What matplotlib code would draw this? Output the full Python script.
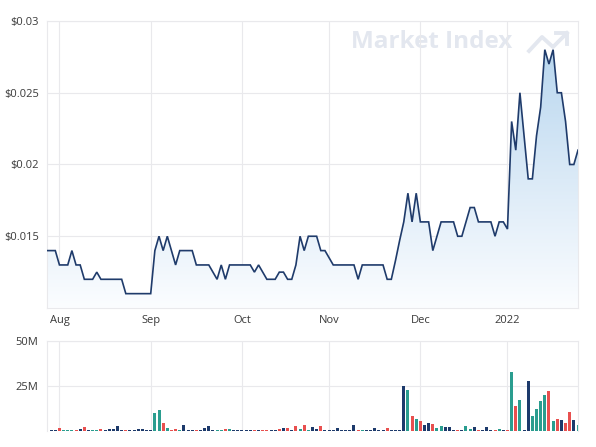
import numpy as np
import pandas as pd
import matplotlib
matplotlib.use("Agg")
import matplotlib.pyplot as plt
from matplotlib.colors import LinearSegmentedColormap
from matplotlib.lines import Line2D

plt.rcParams['font.family'] = ['Open Sans', 'DejaVu Sans']

# ---------------- data ----------------
holidays = ['2021-12-27', '2021-12-28', '2022-01-03', '2022-01-26']
dates = pd.bdate_range('2021-07-28', '2022-01-28', freq='C', holidays=holidays)

price = [
    0.014, 0.014, 0.014, 0.013, 0.013, 0.013, 0.014, 0.013, 0.013, 0.012,
    0.012, 0.012, 0.0125, 0.012, 0.012, 0.012, 0.012, 0.012, 0.012, 0.011,
    0.011, 0.011, 0.011, 0.011, 0.011, 0.011, 0.014, 0.015, 0.014, 0.015,
    0.014, 0.013, 0.014, 0.014, 0.014, 0.014, 0.013, 0.013, 0.013, 0.013,
    0.0125, 0.012, 0.013, 0.012, 0.013, 0.013, 0.013, 0.013, 0.013, 0.013,
    0.0125, 0.013, 0.0125, 0.012, 0.012, 0.012, 0.0125, 0.0125, 0.012, 0.012,
    0.013, 0.015, 0.014, 0.015, 0.015, 0.015, 0.014, 0.014, 0.0135, 0.013,
    0.013, 0.013, 0.013, 0.013, 0.013, 0.012, 0.013, 0.013, 0.013, 0.013,
    0.013, 0.013, 0.012, 0.012, 0.0133, 0.0147, 0.016, 0.018, 0.016, 0.018,
    0.016, 0.016, 0.016, 0.014, 0.015, 0.016, 0.016, 0.016, 0.016, 0.015,
    0.015, 0.016, 0.017, 0.017, 0.016, 0.016, 0.016, 0.016, 0.015, 0.016,
    0.016, 0.0155, 0.023, 0.021, 0.025, 0.022, 0.019, 0.019, 0.022, 0.024,
    0.028, 0.027, 0.028, 0.025, 0.025, 0.023, 0.020, 0.020, 0.021,
]

volume_m = [
    0.3, 0.3, 0.3, 1.8, 0.4, 0.4, 0.7, 0.4, 1.3, 2.2,
    0.3, 0.4, 0.6, 1.3, 0.4, 1.3, 1.3, 2.8, 0.3, 0.3,
    0.3, 0.6, 1.3, 1.3, 0.3, 0.3, 10.2, 11.7, 4.3, 1.7,
    0.6, 1.3, 0.4, 3.1, 0.6, 0.3, 0.6, 0.3, 1.7, 2.8,
    0.3, 0.4, 0.6, 1.1, 1.1, 0.3, 0.3, 0.3, 0.3, 0.3,
    0.3, 0.3, 0.6, 0.6, 0.3, 0.3, 1.0, 1.9, 1.7, 0.4,
    2.8, 1.1, 3.1, 0.6, 2.0, 1.1, 2.6, 0.6, 0.3, 0.4,
    1.7, 0.6, 0.6, 0.6, 3.1, 0.3, 0.3, 0.6, 0.6, 1.7,
    0.6, 0.3, 1.7, 0.3, 0.3, 0.3, 24.8, 22.6, 8.1, 6.9,
    5.6, 3.1, 4.6, 3.7, 1.7, 2.6, 2.0, 2.0, 0.3, 0.5,
    0.3, 2.6, 1.1, 2.0, 0.5, 0.3, 2.0, 0.6, 0.3, 1.1,
    0.6, 0.6, 32.6, 13.7, 17.0, 0.3, 27.6, 8.1, 12.4, 16.7,
    20.2, 22.0, 5.4, 6.9, 6.3, 4.4, 10.6, 6.3, 3.1,
]

# n = navy, t = teal, r = red
volume_kind = (
    "nnnrtttrnr" "nttrnnnnnr" "nnnnnnttrt" "rrtnnnrnnn"
    "nttrtnnnnn" "rnrrnnrnrn" "rtrtnnrnnn" "nnnnnrtnnn"
    "nnrnnnntrt" "rnnrttnnnr" "nttnrnnnrt" "nrtrtnnttt"
    "trtrnrrnt"
)

month_labels = ["Aug", "Sep", "Oct", "Nov", "Dec", "2022"]

# ---------------- styling ----------------
W, H = 596, 447
fig = plt.figure(figsize=(W / 100, H / 100), dpi=100)
fig.patch.set_facecolor('white')

L, R = 47, 578
ax = fig.add_axes([L / W, 1 - 308 / H, (R - L) / W, (308 - 21) / H])
axv = fig.add_axes([L / W, 1 - 431 / H, (R - L) / W, (431 - 341) / H])

x = np.arange(len(price))
n = len(price)
line_color = '#1f3b6b'
grid_color = '#e9e9ec'
text_color = '#3a3a3a'
kind_colors = {'n': '#1d3a6b', 't': '#2a9d8f', 'r': '#e8504f'}

# month tick positions (first trading day of each month)
d = pd.Series(dates[:n])
first_idx = [int(i) for i in d.groupby([d.dt.year, d.dt.month]).head(1).index if i > 0]

# price chart
ymin, ymax = 0.01, 0.03
poly = ax.fill_between(x, price, ymin, color='none', lw=0)
cmap = LinearSegmentedColormap.from_list('g', ['#fbfdff', '#dbeaf7', '#b9d7ef'])
grad = np.linspace(0, 1, 256).reshape(-1, 1)
im = ax.imshow(grad, extent=[0, n - 1, ymin, max(price)], origin='lower',
               aspect='auto', cmap=cmap, zorder=1, interpolation='bilinear')
im.set_clip_path(poly.get_paths()[0], transform=ax.transData)
ax.plot(x, price, color=line_color, lw=1.2, zorder=3, solid_joinstyle='miter')

ax.set_xlim(0, n - 1)
ax.set_ylim(ymin, ymax)
yt = [0.015, 0.02, 0.025, 0.03]
ax.set_yticks(yt)
ax.set_yticklabels(['$0.015', '$0.02', '$0.025', '$0.03'])
ax.set_xticks(first_idx)
ax.set_xticklabels(month_labels)

for a in (ax, axv):
    a.set_facecolor('white')
    a.grid(True, color=grid_color, lw=0.8, zorder=0)
    a.set_axisbelow(True)
    for s in a.spines.values():
        s.set_color(grid_color)
        s.set_linewidth(0.8)
    a.tick_params(length=0, labelsize=8, colors=text_color, pad=6)

ax.tick_params(axis='x', pad=5)

# volume chart
bar_colors = [kind_colors[k] for k in volume_kind]
axv.bar(x, np.array(volume_m) * 1e6, width=0.72, color=bar_colors, lw=0, zorder=2)
axv.set_xlim(0, n - 1)
axv.set_ylim(0, 50e6)
axv.set_yticks([25e6, 50e6])
axv.set_yticklabels(['25M', '50M'])
axv.set_xticks(first_idx)
axv.set_xticklabels([])
axv.spines['bottom'].set_visible(False)

# watermark (drawn inside price axes, behind the line)
wm = '#e3e7ef'
ax.text(351 / W, 1 - 42 / H, 'Market Index', fontsize=17.5, fontweight='bold',
        color=wm, ha='left', va='center', zorder=0.5, transform=fig.transFigure)
pts = [(529, 51), (542, 37), (553, 47), (567, 33)]
ax.add_line(Line2D([p[0] / W for p in pts], [1 - p[1] / H for p in pts],
                   color=wm, lw=2.8, transform=fig.transFigure, zorder=0.5,
                   clip_on=False))
head = [(556, 33), (567, 33), (567, 44)]
ax.add_line(Line2D([p[0] / W for p in head], [1 - p[1] / H for p in head],
                   color=wm, lw=2.8, transform=fig.transFigure, zorder=0.5,
                   clip_on=False))

fig.savefig('out.png', dpi=100, facecolor='white')
